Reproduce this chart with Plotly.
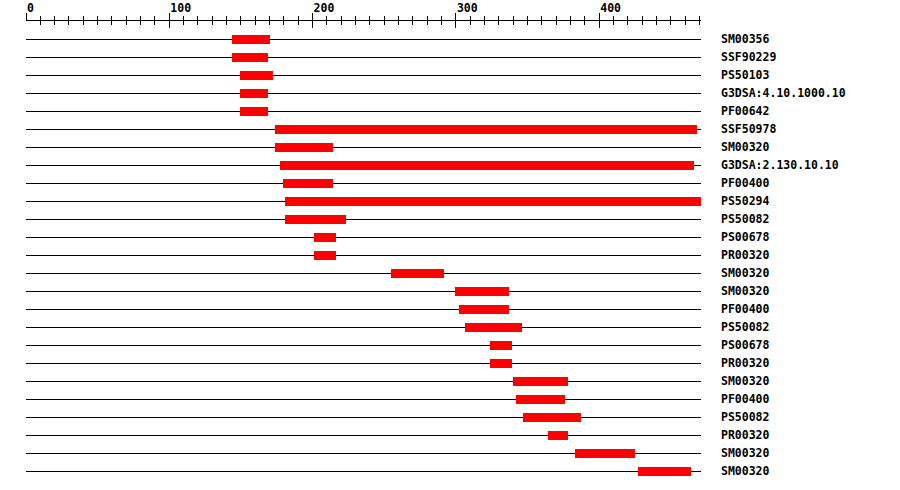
import plotly.graph_objects as go

seq_length = 471
labels = ["SM00356", "SSF90229", "PS50103", "G3DSA:4.10.1000.10", "PF00642",
          "SSF50978", "SM00320", "G3DSA:2.130.10.10", "PF00400", "PS50294",
          "PS50082", "PS00678", "PR00320", "SM00320", "SM00320", "PF00400",
          "PS50082", "PS00678", "PR00320", "SM00320", "PF00400", "PS50082",
          "PR00320", "SM00320", "SM00320"]
starts = [144, 144, 149, 149, 149, 174, 174, 177, 179, 181, 181, 201, 201,
          255, 299, 302, 306, 324, 324, 340, 342, 347, 364, 383, 427]
ends = [170, 169, 172, 169, 169, 468, 214, 466, 214, 471, 223, 216, 216,
        292, 337, 337, 346, 339, 339, 378, 376, 387, 378, 425, 464]
major_ticks = [0, 100, 200, 300, 400]

rows = list(range(len(labels)))
FONT = "DejaVu Sans Mono"

fig_w, fig_h = 900, 490
left_px, right_px = 26, 701
top_px, bottom_px = 21, 480
row0_px, row_px = 39.3, 18

fig = go.Figure()
fig.add_trace(go.Bar(
    orientation="h", y=rows, base=starts,
    x=[e - s for s, e in zip(starts, ends)],
    width=0.5, marker=dict(color="#ff0000", line=dict(width=0)),
    hoverinfo="skip", showlegend=False))
# invisible trace for the overlaying axis (inner ticks)
fig.add_trace(go.Scatter(x=[0, seq_length], y=[0, 0], xaxis="x2", mode="lines",
                         line=dict(width=0), hoverinfo="skip", showlegend=False))

plot_w = right_px - left_px
label_x_paper = (719 - left_px) / plot_w
for i, lab in enumerate(labels):
    fig.add_annotation(x=label_x_paper, y=i, xref="paper", yref="y", text=lab,
                       showarrow=False, xanchor="left", yanchor="middle",
                       font=dict(family=FONT, size=11.5, color="black", weight="bold"))

y_top = (top_px - row0_px) / row_px
y_bot = (bottom_px - row0_px) / row_px

axis_common = dict(range=[0, seq_length], showgrid=False, zeroline=False,
                   showline=True, linecolor="black", linewidth=1,
                   tickcolor="black", tickwidth=1, ticklen=7,
                   tickvals=major_ticks, side="top", automargin=False)
fig.update_layout(
    template="none",
    width=fig_w, height=fig_h,
    margin=dict(l=left_px, r=fig_w - right_px, t=top_px,
                b=fig_h - bottom_px, autoexpand=False),
    paper_bgcolor="white", plot_bgcolor="white",
    bargap=0,
    xaxis=dict(**axis_common, ticks="outside", ticklabelposition="outside right",
               showticklabels=True, ticklabelstandoff=3,
               tickfont=dict(family=FONT, size=11.5, color="black", weight="bold"),
               minor=dict(dtick=10, tick0=0, ticks="outside", ticklen=4,
                          tickcolor="black", tickwidth=1)),
    xaxis2=dict(**axis_common, ticks="inside", overlaying="x", showticklabels=False,
                minor=dict(dtick=10, tick0=0, ticks="inside", ticklen=4,
                           tickcolor="black", tickwidth=1)),
    yaxis=dict(range=[y_bot, y_top], tickvals=rows, showticklabels=False,
               showgrid=True, gridcolor="black", gridwidth=1, zeroline=False,
               showline=False, ticks="", automargin=False),
)
fig.write_html("out.html", config={"displayModeBar": False, "staticPlot": True},
               post_script="document.body.style.margin='0';"
                           "document.body.style.overflow='hidden';")
